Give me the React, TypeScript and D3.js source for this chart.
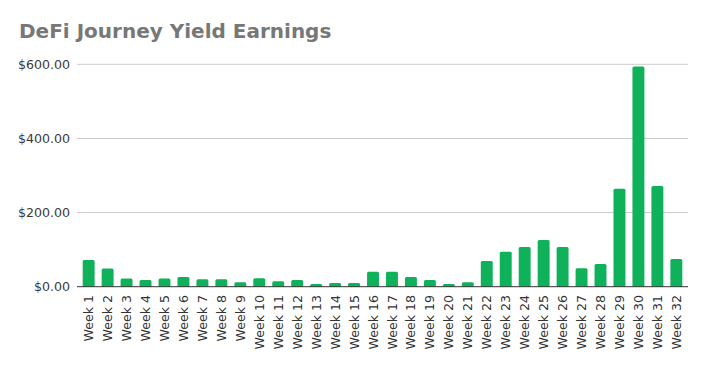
import React, { useRef, useEffect } from 'react';
import * as d3 from 'd3';

// chart data
const weeks = d3.range(1, 33).map(i => 'Week ' + i);
const earnings = [
  72, 49, 22, 18, 22, 26, 20, 20, 12, 23, 15, 18, 7, 10, 10, 40,
  40, 26, 18, 7, 12, 69, 94, 107, 126, 107, 50, 61, 264, 594, 272, 75,
];
const yTicks = [0, 200, 400, 600];

const W = 706;
const H = 367;

const App = () => {
  const svgRef = useRef<SVGSVGElement>(null);

  useEffect(() => {
    document.body.style.margin = '0';
    const svg = d3.select(svgRef.current);
    svg.selectAll('*').remove();

    const x = d3.scaleBand()
      .domain(weeks)
      .range([77, 688])
      .paddingInner(0.37)
      .paddingOuter(0.3);

    const y = d3.scaleLinear()
      .domain([0, 600])
      .range([286.7, 64.3]);

    const font = '"DejaVu Sans", sans-serif';

    // title
    svg.append('text')
      .attr('x', 19)
      .attr('y', 37.5)
      .attr('font-family', font)
      .attr('font-weight', 'bold')
      .attr('font-size', 20)
      .attr('fill', '#777')
      .text('DeFi Journey Yield Earnings');

    // gridlines + y labels
    const grid = svg.append('g');
    grid.selectAll('line')
      .data(yTicks.filter(d => d > 0))
      .enter()
      .append('line')
        .attr('x1', 77)
        .attr('x2', 688)
        .attr('y1', d => y(d))
        .attr('y2', d => y(d))
        .attr('stroke', '#cccccc')
        .attr('stroke-width', 1);

    grid.selectAll('text')
      .data(yTicks)
      .enter()
      .append('text')
        .attr('x', 70)
        .attr('y', d => y(d))
        .attr('dy', '0.36em')
        .attr('text-anchor', 'end')
        .attr('font-family', font)
        .attr('font-size', 12.6)
        .attr('fill', '#3a3a3a')
        .text(d => d3.format('$,.2f')(d));

    // bars, top corners slightly rounded
    const r = 1.5;
    svg.append('g')
      .selectAll('path')
      .data(earnings)
      .enter()
      .append('path')
        .attr('d', (d, i) => {
          const x0 = x(weeks[i]);
          const bw = x.bandwidth();
          const y0 = y(d);
          const yb = y(0);
          const p = d3.path();
          p.moveTo(x0, yb);
          p.lineTo(x0, y0 + r);
          p.quadraticCurveTo(x0, y0, x0 + r, y0);
          p.lineTo(x0 + bw - r, y0);
          p.quadraticCurveTo(x0 + bw, y0, x0 + bw, y0 + r);
          p.lineTo(x0 + bw, yb);
          p.closePath();
          return p.toString();
        })
        .attr('fill', '#0fb15b');

    // baseline
    svg.append('line')
      .attr('x1', 77)
      .attr('x2', 688)
      .attr('y1', y(0))
      .attr('y2', y(0))
      .attr('stroke', '#333')
      .attr('stroke-width', 1);

    // x labels
    svg.append('g')
      .selectAll('text')
      .data(weeks)
      .enter()
      .append('text')
        .attr('transform', d => 'translate(' + (x(d) + x.bandwidth() / 2) + ',295) rotate(-90)')
        .attr('dy', '0.36em')
        .attr('text-anchor', 'end')
        .attr('font-family', font)
        .attr('font-size', 12.6)
        .attr('fill', '#333')
        .text(d => d);
  }, []);

  return (
    <svg ref={svgRef} width={W} height={H} style={{ display: 'block', background: '#fff' }}></svg>
  );
};

export default App;
